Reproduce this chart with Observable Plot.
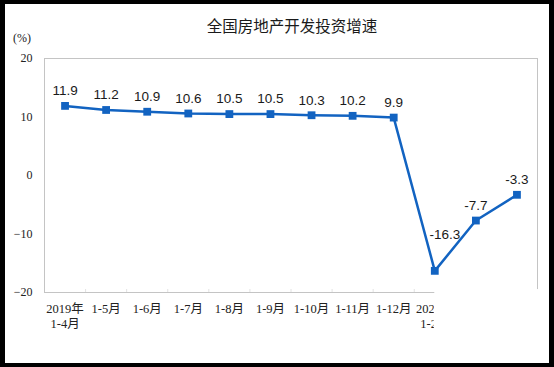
<!DOCTYPE html>
<html>
<head>
<meta charset="utf-8">
<script src="https://cdn.jsdelivr.net/npm/d3@7"></script>
<script src="https://cdn.jsdelivr.net/npm/@observablehq/plot@0.6"></script>
<style>
  html, body { margin: 0; padding: 0; background: #000; width: 554px; height: 367px; overflow: hidden; }
  #card { position: absolute; left: 5px; top: 4px; width: 544px; height: 359px; background: #fff; }
  #title { position: absolute; left: 0; width: 574px; top: 11px; text-align: center;
           font-family: "Noto Sans CJK SC", sans-serif; font-size: 15.5px; color: #1a1a1a; line-height: 20px; }
  #unit { position: absolute; left: 8px; top: 27px; font-family: "Liberation Serif", "Noto Sans CJK SC", serif;
          font-size: 12px; color: #222; }
  #chart { position: absolute; left: 0; top: 41px; }
</style>
</head>
<body>
<div id="card">
  <div id="title">全国房地产开发投资增速</div>
  <div id="unit">(%)</div>
  <div id="chart"></div>
</div>
<script>
const categories = ["2019年1-4月","2019年1-5月","2019年1-6月","2019年1-7月","2019年1-8月","2019年1-9月",
                    "2019年1-10月","2019年1-11月","2019年1-12月","2020年1-2月","2020年1-3月","2020年1-4月"];
const values = [11.9, 11.2, 10.9, 10.6, 10.5, 10.5, 10.3, 10.2, 9.9, -16.3, -7.7, -3.3];
const tickLabels = ["2019年\n1-4月","1-5月","1-6月","1-7月","1-8月","1-9月","1-10月","1-11月","1-12月","2020年\n1-2月","",""];
const yTicks = [20, 10, 0, -10, -20];

const data = categories.map((c, i) => ({i, c, v: values[i]}));
const minIdx = values.indexOf(d3.min(values));
const lastLabelled = tickLabels.findLastIndex(t => t !== "");
const boundaries = d3.range(lastLabelled).map(i => i + 0.5);

const blue = "#1263c1";
const grid = "#c4c4c4";
const serif = "'Liberation Serif', 'Noto Sans CJK SC', serif";

const chart = Plot.plot({
  width: 544,
  height: 318,
  marginLeft: 39,
  marginRight: 12,
  marginTop: 13,
  marginBottom: 71,
  x: {type: "linear", domain: [-0.5, categories.length - 0.5]},
  y: {domain: [d3.min(yTicks), d3.max(yTicks)]},
  marks: [
    Plot.ruleY([d3.max(yTicks)], {stroke: grid, strokeWidth: 1}),
    Plot.ruleX([categories.length - 0.5], {stroke: grid, strokeWidth: 1, y1: d3.min(yTicks) + 0.5, y2: d3.max(yTicks)}),
    Plot.ruleX([-0.5], {stroke: grid, strokeWidth: 1}),
    Plot.ruleY([d3.min(yTicks)], {x1: -0.5, x2: lastLabelled, stroke: grid, strokeWidth: 1}),
    Plot.axisY({ticks: yTicks, tickSize: 0, tickPadding: 12, fontSize: 12, fontFamily: serif, fill: "#222", label: null}),
    Plot.axisX({ticks: boundaries, tickSize: -3, tickFormat: () => "", stroke: "#e2e2e2", label: null}),
    Plot.axisX({ticks: d3.range(categories.length), tickSize: 0, tickPadding: 10,
                tickFormat: i => tickLabels[i], fontSize: 12.5, fontFamily: serif, fill: "#222",
                lineHeight: 1.2, label: null, className: "xlabels"}),
    Plot.line(data, {x: "i", y: "v", stroke: blue, strokeWidth: 2.5}),
    Plot.dot(data, {x: "i", y: "v", symbol: "square", r: 4.4, fill: blue, stroke: null}),
    Plot.text(data.filter(d => d.i !== minIdx), {x: "i", y: "v", text: d => d.v.toFixed(1), dy: -15,
              fontSize: 13.5, fontFamily: "'Liberation Sans', Arial, sans-serif", fill: "#1a1a1a"}),
    Plot.text(data.filter(d => d.i === minIdx), {x: "i", y: "v", text: d => d.v.toFixed(1), dx: 10, dy: -36,
              fontSize: 13.5, fontFamily: "'Liberation Sans', Arial, sans-serif", fill: "#1a1a1a"})
  ]
});

// In the reference, the last labelled category's label is cut off at its centre by a blank patch.
// The text element is translated to its tick position, so clip in its local coordinates.
const svg = d3.select(chart);
svg.append("defs").append("clipPath").attr("id", "labelclip")
  .append("rect").attr("x", -200).attr("y", -100).attr("width", 199).attr("height", 300);
svg.selectAll("g.xlabels text").each(function(d, k) {
  if (k === lastLabelled) d3.select(this).attr("clip-path", "url(#labelclip)");
});

document.getElementById("chart").appendChild(chart);
</script>
</body>
</html>
